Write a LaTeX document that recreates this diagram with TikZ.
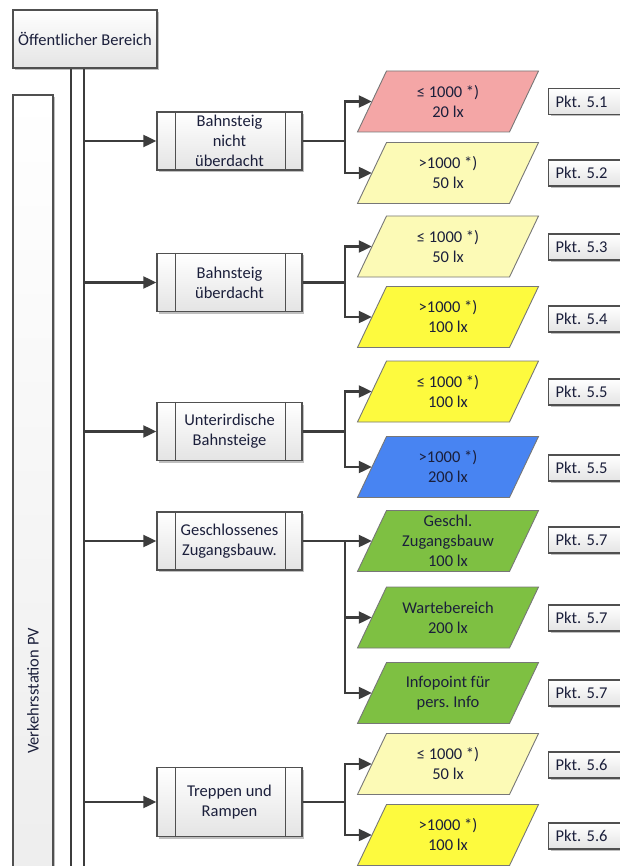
\documentclass[tikz,border=0pt]{standalone}
\usepackage{fontspec}
\setmainfont{Carlito}
\usetikzlibrary{arrows.meta,shadows,calc}

\definecolor{txt}{HTML}{1B1F3B}
\definecolor{boxedge}{HTML}{505050}
\definecolor{boxgrey}{HTML}{E4E4E4}
\definecolor{wire}{HTML}{3C3C3C}
\definecolor{paraedge}{HTML}{777777}
\definecolor{cpink}{RGB}{244,166,166}
\definecolor{cpale}{RGB}{252,250,182}
\definecolor{cyellow}{RGB}{253,250,62}
\definecolor{cblue}{RGB}{72,132,242}
\definecolor{cgreen}{RGB}{126,192,66}

% parallelogram with a named text node in its centre
% #1 name, #2 x, #3 y, #4 fill colour, #5 text
\newcommand{\lichtfeld}[5]{%
  \path[draw=paraedge, line width=0.9pt, fill=#4]
    (#2-90.5,#3+30.5) -- (#2+61.5,#3+30.5) -- (#2+90.5,#3-30.5) -- (#2-61.5,#3-30.5) -- cycle;
  \node[paratext] (#1) at (#2,#3) {#5};
}

\begin{document}
\frenchspacing
\begin{tikzpicture}[x=1pt,y=-1pt,
  font=\fontsize{16.5}{20}\selectfont,
  greybox/.style={draw=boxedge, line width=1.4pt, top color=white, bottom color=boxgrey,
    drop shadow={shadow xshift=2pt, shadow yshift=-2pt, opacity=0.25, fill=black},
    text=txt, align=center, inner sep=0pt},
  procbox/.style={greybox, minimum width=145, minimum height=58},
  pktbox/.style={greybox, line width=1.1pt, minimum height=26, text width=90pt,
    inner xsep=7pt, align=left, anchor=west},
  paratext/.style={minimum width=152, minimum height=61, inner sep=0pt, align=center, text=txt},
  conn/.style={draw=wire, line width=2.2pt},
  arr/.style={conn, -{Triangle[length=13pt,width=12pt]}},
  sidebar/.style={draw=boxedge, line width=1.4pt},
]
\useasboundingbox (0,0) rectangle (619,866);
\fill[white] (0,0) rectangle (619,866);

% free ends of the two trunk lines
\coordinate (la) at (71,880);
\coordinate (lb) at (84,880);
% x position of the branching lines
\coordinate (j) at (345,0);

% headers
\node[greybox, minimum width=144, minimum height=58] (ob) at (85,39) {Öffentlicher Bereich};
\node[greybox, minimum width=1192, minimum height=40, rotate=90] (vs) at (33,691) {Verkehrsstation PV};

% trunk
\draw[conn] (ob.south -| la) -- (la);
\draw[conn] (ob.south -| lb) -- (lb);

% areas
\node[procbox] (b1) at (229.5,141) {Bahnsteig\\nicht\\überdacht};
\node[procbox] (b2) at (229.5,282.5) {Bahnsteig\\überdacht};
\node[procbox] (b3) at (229.5,431.5) {Unterirdische\\Bahnsteige};
\node[procbox] (b4) at (229.5,541) {Geschlossenes\\Zugangsbauw.};
\node[procbox, minimum height=69] (b5) at (229.5,802) {Treppen und\\Rampen};
\foreach \b in {b1,b2,b3,b4,b5}{
  \draw[sidebar] ([xshift=19pt]\b.north west) -- ([xshift=19pt]\b.south west);
  \draw[sidebar] ([xshift=-17pt]\b.north east) -- ([xshift=-17pt]\b.south east);
}

% illuminance classes
\lichtfeld{p1}{448}{101.5}{cpink}{≤ 1000 *)\\20 lx}
\lichtfeld{p2}{448}{173}{cpale}{>1000 *)\\50 lx}
\lichtfeld{p3}{448}{246.5}{cpale}{≤ 1000 *)\\50 lx}
\lichtfeld{p4}{448}{317}{cyellow}{>1000 *)\\100 lx}
\lichtfeld{p5}{448}{391.5}{cyellow}{≤ 1000 *)\\100 lx}
\lichtfeld{p6}{448}{467}{cblue}{>1000 *)\\200 lx}
\lichtfeld{p7}{448}{541}{cgreen}{Geschl.\\Zugangsbauw\\100 lx}
\lichtfeld{p8}{448}{617.5}{cgreen}{Wartebereich\\200 lx}
\lichtfeld{p9}{448}{693}{cgreen}{Infopoint für\\pers. Info}
\lichtfeld{p10}{448}{764}{cpale}{≤ 1000 *)\\50 lx}
\lichtfeld{p11}{448}{835}{cyellow}{>1000 *)\\100 lx}

% references
\node[pktbox] (k1) at (548,101.5) {Pkt. 5.1};
\node[pktbox] (k2) at (548,173) {Pkt. 5.2};
\node[pktbox] (k3) at (548,247) {Pkt. 5.3};
\node[pktbox] (k4) at (548,319) {Pkt. 5.4};
\node[pktbox] (k5) at (548,392) {Pkt. 5.5};
\node[pktbox] (k6) at (548,468) {Pkt. 5.5};
\node[pktbox] (k7) at (548,540) {Pkt. 5.7};
\node[pktbox] (k8) at (548,618) {Pkt. 5.7};
\node[pktbox] (k9) at (548,693) {Pkt. 5.7};
\node[pktbox] (k10) at (548,765) {Pkt. 5.6};
\node[pktbox] (k11) at (548,836) {Pkt. 5.6};

% trunk to areas
\foreach \b in {b1,b2,b3,b4,b5}
  \draw[arr] (\b.west -| lb) -- (\b.west);

% areas to classes
\draw[arr] (b1.east) -- (b1.east -| j) |- (p1.west);
\draw[arr] (b1.east -| j) |- (p2.west);
\draw[arr] (b2.east) -- (b2.east -| j) |- (p3.west);
\draw[arr] (b2.east -| j) |- (p4.west);
\draw[arr] (b3.east) -- (b3.east -| j) |- (p5.west);
\draw[arr] (b3.east -| j) |- (p6.west);
\draw[arr] (b4.east) -- (p7.west);
\draw[arr] (b4.east -| j) |- (p8.west);
\draw[arr] (b4.east -| j) |- (p9.west);
\draw[arr] (b5.east) -- (b5.east -| j) |- (p10.west);
\draw[arr] (b5.east -| j) |- (p11.west);
\end{tikzpicture}
\end{document}
